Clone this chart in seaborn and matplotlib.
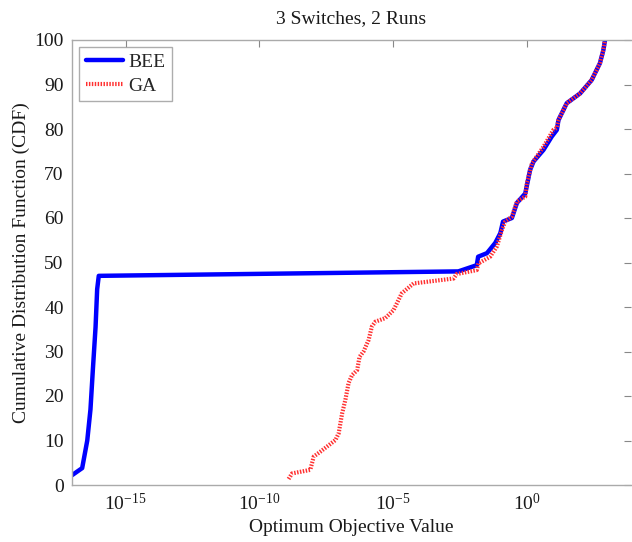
import numpy as np
import pandas as pd
import matplotlib
matplotlib.use('Agg')
import matplotlib.pyplot as plt
import seaborn as sns
from matplotlib.ticker import FixedLocator, LogFormatterMathtext, NullLocator

# ========================================
# Данные (ось X в log10)
# ========================================
bee_log10_value = [-17.0, -16.62, -16.43, -16.31, -16.22, -16.12, -16.06, -16.0,
                   -2.57, -1.88, -1.83, -1.5, -1.19, -1.0, -0.9, -0.57, -0.38,
                   -0.07, 0.11, 0.24, 0.61, 0.92, 1.11, 1.17, 1.48, 1.98,
                   2.41, 2.72, 2.85, 2.91]
bee_cdf = [2.2, 3.8, 10.0, 17.0, 26.0, 35.5, 44.0, 47.0,
           48.0, 49.4, 51.3, 52.1, 54.4, 56.6, 59.2, 60.0, 63.4,
           65.5, 70.8, 72.7, 75.3, 78.3, 79.8, 82.0, 85.8, 88.0,
           91.0, 94.8, 97.8, 100.0]

ga_log10_value = [-8.91, -8.78, -8.1, -7.97, -7.72, -7.16, -7.04, -6.91, -6.79,
                  -6.67, -6.54, -6.35, -6.26, -6.11, -5.92, -5.8, -5.67, -5.3,
                  -4.99, -4.68, -4.24, -2.75, -2.63, -1.88, -1.82, -1.38, -1.13,
                  -0.94, -0.82, -0.57, -0.38, -0.07, -0.01, 0.18, 0.61, 0.98,
                  1.11, 1.17, 1.48, 1.98, 2.41, 2.72, 2.85, 2.91]
ga_cdf = [1.35, 2.6, 3.4, 6.4, 7.5, 10.1, 11.6, 16.1, 19.1,
          22.9, 24.7, 25.8, 28.8, 30.0, 32.6, 35.6, 36.7, 37.5,
          39.3, 43.1, 45.3, 46.4, 47.4, 48.3, 49.8, 51.3, 53.6,
          57.3, 59.2, 60.3, 63.7, 64.8, 67.8, 72.3, 76.0, 79.8,
          80.3, 82.0, 85.8, 88.0, 91.0, 94.8, 97.8, 100.0]

x_ticks = [1e-15, 1e-10, 1e-5, 1e0]
y_ticks = [0, 10, 20, 30, 40, 50, 60, 70, 80, 90, 100]

# ========================================
# Стиль
# ========================================
sns.set_style('white')
plt.rcParams['font.family'] = ['Liberation Serif', 'DejaVu Serif']
plt.rcParams['mathtext.fontset'] = 'custom'
plt.rcParams['mathtext.rm'] = 'Liberation Serif'
plt.rcParams['mathtext.it'] = 'Liberation Serif:italic'

df = pd.concat([
    pd.DataFrame({'value': 10.0 ** np.array(bee_log10_value), 'cdf': bee_cdf, 'algo': 'BEE'}),
    pd.DataFrame({'value': 10.0 ** np.array(ga_log10_value), 'cdf': ga_cdf, 'algo': 'GA'}),
], ignore_index=True)

fig = plt.figure(figsize=(6.32, 5.42), dpi=100)
ax = fig.add_axes([72 / 632, 57 / 542, 559 / 632, 445 / 542])

sns.lineplot(data=df[df['algo'] == 'BEE'], x='value', y='cdf', color='#0000ff',
             linewidth=3.2, sort=False, estimator=None, label='BEE', ax=ax)
sns.lineplot(data=df[df['algo'] == 'GA'], x='value', y='cdf', color='#ff3030',
             linewidth=3.0, sort=False, estimator=None, label='GA', ax=ax,
             linestyle=(0, (0.35, 0.35)))

ax.set_xscale('log')
ax.set_xlim(1e-17, 10 ** 3.88)
ax.set_ylim(0, 100)
ax.xaxis.set_major_locator(FixedLocator(x_ticks))
ax.xaxis.set_major_formatter(LogFormatterMathtext())
ax.xaxis.set_minor_locator(NullLocator())
ax.set_yticks(y_ticks)

ax.tick_params(direction='in', length=5, width=0.8, color='#888888',
               top=True, right=True, labelsize=14, labelcolor='#1a1a1a', pad=6)
for s in ax.spines.values():
    s.set_color('#aaaaaa')
    s.set_linewidth(1.0)
ax.spines['right'].set_visible(False)

ax.set_title('3 Switches, 2 Runs', fontsize=14, color='#1a1a1a', pad=12)
ax.set_xlabel('Optimum Objective Value', fontsize=14, color='#1a1a1a', labelpad=3)
ax.set_ylabel('Cumulative Distribution Function (CDF)', fontsize=14, color='#1a1a1a', labelpad=3)

leg = ax.legend(loc='upper left', fontsize=14, frameon=True, fancybox=False,
                handlelength=1.9, borderpad=0.35, labelspacing=0.3,
                handletextpad=0.3, borderaxespad=0.35)
leg.get_frame().set_edgecolor('#999999')
leg.get_frame().set_linewidth(1.0)

fig.savefig('out.png', dpi=100)
plt.close(fig)
